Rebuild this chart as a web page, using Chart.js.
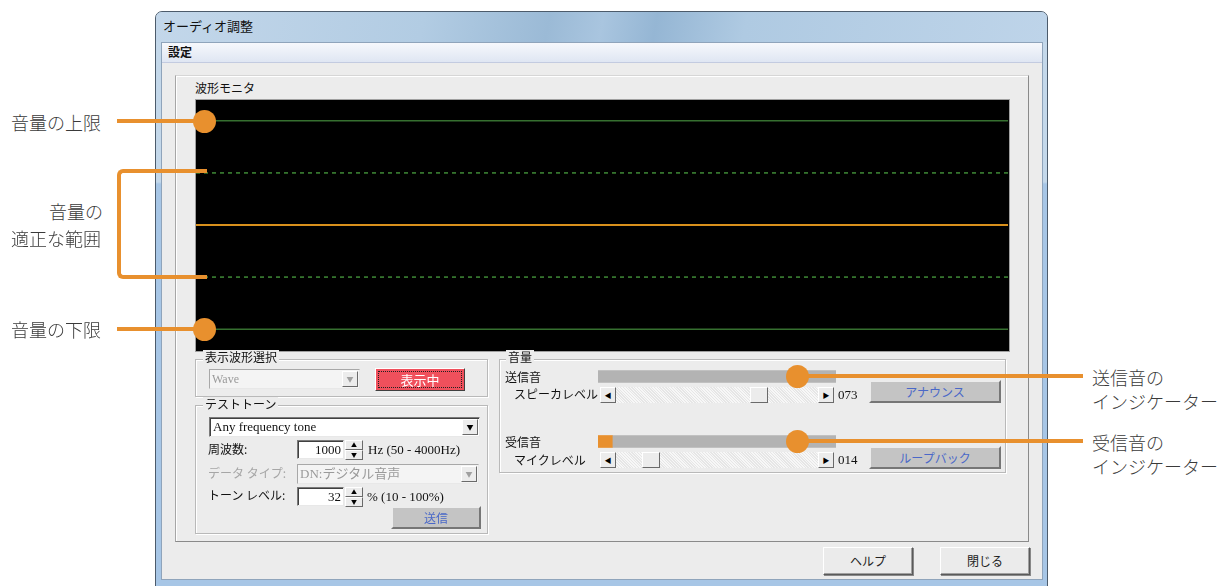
<!DOCTYPE html>
<html lang="ja">
<head>
<meta charset="utf-8">
<script src="https://cdn.jsdelivr.net/npm/chart.js@4.4.1/dist/chart.umd.min.js"></script>
<style>
  body { margin:0; background:#fff; }
  #page { position:relative; width:1230px; height:586px; overflow:hidden; background:#fff;
          font-family:"Noto Sans CJK JP", sans-serif; }
  .abs { position:absolute; box-sizing:border-box; }
  .t { position:absolute; font-size:12px; line-height:14px; color:#111; white-space:nowrap;
       font-family:"Liberation Serif","Noto Sans CJK JP", serif; }
  .jp { font-family:"Noto Sans CJK JP", sans-serif; }
  .grp { position:absolute; box-sizing:border-box; border:1px solid #b9b9b9; box-shadow: inset 1px 1px #fff, 1px 1px #fff; }
  .lg { position:absolute; background:#ececec; padding:0 2px; font-size:12px; line-height:14px;
        font-family:"Noto Sans CJK JP", sans-serif; color:#111; white-space:nowrap; }
  .edit { position:absolute; box-sizing:border-box; background:#fff; border:1px solid;
          border-color:#7a7a7a #e8e8e8 #e8e8e8 #7a7a7a; box-shadow: inset 1px 1px #404040; }
  .raised { position:absolute; box-sizing:border-box; background:#ececec; border:1px solid;
            border-color:#fff #6a6a6a #6a6a6a #fff; }
  .gbtn { position:absolute; box-sizing:border-box; background:#c4c4c4; border:2px solid;
          border-color:#ececec #767676 #767676 #ececec; color:#4a68c8; font-size:12px;
          text-align:center; font-family:"Noto Sans CJK JP", sans-serif; }
  .btn { position:absolute; box-sizing:border-box; background:#ebebeb; border:1px solid;
         border-color:#fff #5a5a5a #5a5a5a #fff; box-shadow: inset -1px -1px #a0a0a0, 1px 1px #888;
         color:#222; font-size:12px; text-align:center; font-family:"Noto Sans CJK JP", sans-serif; }
  .arrow { font-size:7px; color:#000; text-align:center; line-height:14px; }
  .track { position:absolute; box-sizing:border-box;
           background: repeating-linear-gradient(45deg,#f7f7f7 0 1px,#e6e6e6 1px 2px); }
  .orange { position:absolute; background:#e8902e; }
  .dot { position:absolute; width:23px; height:23px; border-radius:50%; background:#e8902e; }
  .note { position:absolute; font-size:18px; line-height:22px; color:#3a3a3a; white-space:nowrap;
          font-family:"Noto Sans CJK JP", sans-serif; font-weight:300; }
</style>
</head>
<body>
<div id="page">

  <!-- window frame -->
  <div class="abs" style="left:155px;top:11px;width:893px;height:580px;border:1px solid #4c5b6b;border-radius:7px 7px 0 0;
       background:linear-gradient(180deg,#c4d8ea 0,#c4d8ea 170px,#a7c6e6 172px,#a7c6e6 100%);"></div>
  <div class="abs" style="left:156px;top:12px;width:891px;height:30px;border-radius:6px 6px 0 0;
       background:linear-gradient(100deg,#c3d7ea 0%,#b2cce3 30%,#9bbad6 44%,#a9c5df 50%,#95b6d4 56%,#afcae2 66%,#bed4e9 100%);"></div>
  <div class="t jp" style="left:163px;top:19px;font-size:13px;">オーディオ調整</div>

  <!-- client -->
  <div class="abs" style="left:161px;top:42px;width:882px;height:538px;background:#ececec;border:1px solid #8fa4bb;"></div>
  <div class="abs" style="left:162px;top:43px;width:880px;height:20px;background:linear-gradient(180deg,#f6f8fc,#dfe6f3);border-bottom:1px solid #c3cbe0;"></div>
  <div class="t jp" style="left:168px;top:45px;font-size:12px;font-weight:bold;">設定</div>

  <!-- panel -->
  <div class="abs" style="left:175px;top:75px;width:854px;height:467px;border:1px solid;border-color:#d6d6d6 #8a8a8a #8a8a8a #a6a6a6;box-shadow:inset 1px 1px #fff;"></div>
  <div class="t jp" style="left:195px;top:81px;">波形モニタ</div>
  <div class="abs" style="left:195px;top:99px;width:815px;height:253px;border:1px solid #a0a0a0;background:#000;"></div>
  <canvas id="wave" class="abs" width="812" height="250" style="left:196px;top:100px;width:812px;height:250px;background:#000;"></canvas>

  <!-- 表示波形選択 -->
  <div class="grp" style="left:195px;top:359px;width:293px;height:38px;"></div>
  <div class="lg" style="left:203px;top:350px;">表示波形選択</div>
  <div class="edit" style="left:209px;top:369px;width:151px;height:20px;background:#f4f4f4;box-shadow:none;border-color:#a8a8a8 #e8e8e8 #e8e8e8 #a8a8a8;"></div>
  <div class="t" style="left:212px;top:372px;color:#9a9a9a;">Wave</div>
  <div class="raised arrow" style="left:342px;top:371px;width:16px;height:16px;color:#a0a0a0;">▼</div>
  <div class="abs" style="left:375px;top:368px;width:90px;height:23px;background:#f0505c;border:1px solid;border-color:#fff #404040 #404040 #fff;"></div>
  <div class="abs" style="left:378px;top:371px;width:84px;height:17px;border:1px dotted #222;"></div>
  <div class="t jp" style="left:375px;top:373px;width:90px;text-align:center;color:#fff;font-size:13px;">表示中</div>

  <!-- テストトーン -->
  <div class="grp" style="left:195px;top:405px;width:293px;height:129px;"></div>
  <div class="lg" style="left:203px;top:397px;">テストトーン</div>
  <div class="edit" style="left:209px;top:417px;width:271px;height:20px;"></div>
  <div class="t" style="left:213px;top:420px;font-size:13px;">Any frequency tone</div>
  <div class="raised arrow" style="left:462px;top:419px;width:16px;height:16px;">▼</div>

  <div class="t jp" style="left:208px;top:442px;">周波数:</div>
  <div class="edit" style="left:297px;top:440px;width:47px;height:19px;"></div>
  <div class="t" style="left:297px;top:443px;width:44px;text-align:right;font-size:13px;">1000</div>
  <div class="raised arrow" style="left:345px;top:440px;width:18px;height:10px;line-height:8px;font-size:6px;">▲</div>
  <div class="raised arrow" style="left:345px;top:450px;width:18px;height:10px;line-height:8px;font-size:6px;">▼</div>
  <div class="t" style="left:368px;top:443px;font-size:13px;">Hz (50 - 4000Hz)</div>

  <div class="t jp" style="left:208px;top:466px;color:#a6a6a6;">データ タイプ:</div>
  <div class="edit" style="left:297px;top:464px;width:182px;height:20px;background:#f4f4f4;box-shadow:none;border-color:#a8a8a8 #e8e8e8 #e8e8e8 #a8a8a8;"></div>
  <div class="t" style="left:300px;top:467px;color:#9a9a9a;font-size:13px;">DN:デジタル音声</div>
  <div class="raised arrow" style="left:461px;top:466px;width:16px;height:16px;color:#a0a0a0;">▼</div>

  <div class="t jp" style="left:208px;top:488px;">トーン レベル:</div>
  <div class="edit" style="left:297px;top:487px;width:47px;height:19px;"></div>
  <div class="t" style="left:297px;top:490px;width:44px;text-align:right;font-size:13px;">32</div>
  <div class="raised arrow" style="left:345px;top:487px;width:18px;height:10px;line-height:8px;font-size:6px;">▲</div>
  <div class="raised arrow" style="left:345px;top:497px;width:18px;height:10px;line-height:8px;font-size:6px;">▼</div>
  <div class="t" style="left:367px;top:490px;font-size:13px;">% (10 - 100%)</div>
  <div class="gbtn" style="left:391px;top:506px;width:90px;height:23px;line-height:19px;">送信</div>

  <!-- 音量 -->
  <div class="grp" style="left:499px;top:359px;width:507px;height:114px;"></div>
  <div class="lg" style="left:506px;top:350px;">音量</div>
  <div class="t jp" style="left:505px;top:370px;">送信音</div>
  <div class="t jp" style="left:514px;top:387px;">スピーカレベル</div>
  <div class="t jp" style="left:505px;top:435px;">受信音</div>
  <div class="t jp" style="left:514px;top:453px;">マイクレベル</div>
  <canvas id="meter" class="abs" width="238" height="130" style="left:598px;top:344px;width:238px;height:130px;"></canvas>
  <div id="sliders"></div>
  <div class="t" style="left:838px;top:388px;font-size:13px;">073</div>
  <div class="t" style="left:838px;top:453px;font-size:13px;">014</div>
  <div class="gbtn" style="left:869px;top:380px;width:132px;height:23px;line-height:19px;">アナウンス</div>
  <div class="gbtn" style="left:869px;top:446px;width:132px;height:23px;line-height:19px;">ループバック</div>

  <!-- bottom buttons -->
  <div class="btn" style="left:823px;top:547px;width:90px;height:28px;line-height:26px;">ヘルプ</div>
  <div class="btn" style="left:940px;top:547px;width:90px;height:28px;line-height:26px;">閉じる</div>

  <!-- annotations -->
  <div class="note" style="left:11px;top:111px;">音量の上限</div>
  <div class="orange" style="left:117px;top:119px;width:88px;height:4px;"></div>
  <div class="dot" style="left:193px;top:110px;"></div>

  <div class="note" style="left:11px;top:200px;width:92px;text-align:right;">音量の</div>
  <div class="note" style="left:11px;top:227px;">適正な範囲</div>
  <div class="abs" style="left:117px;top:169px;width:90px;height:110px;border:4px solid #e8902e;border-right:none;border-radius:6px 0 0 6px;"></div>

  <div class="note" style="left:11px;top:318px;">音量の下限</div>
  <div class="orange" style="left:117px;top:327px;width:88px;height:4px;"></div>
  <div class="dot" style="left:193px;top:318px;"></div>

  <div class="orange" style="left:797px;top:374px;width:286px;height:4px;"></div>
  <div class="dot" style="left:786px;top:365px;"></div>
  <div class="orange" style="left:797px;top:439px;width:286px;height:4px;"></div>
  <div class="dot" style="left:786px;top:430px;"></div>
  <div class="note" style="left:1092px;top:366px;">送信音の</div>
  <div class="note" style="left:1092px;top:390px;">インジケーター</div>
  <div class="note" style="left:1092px;top:431px;">受信音の</div>
  <div class="note" style="left:1092px;top:455px;">インジケーター</div>
</div>

<script>
// waveform monitor levels (same units as the meter, range -120..120)
var limitLevels = [100, -100];      // 上限 / 下限
var rangeLevels = [50, -50];        // 適正な範囲
var waveSamples = [0, 0, 0, 0, 0, 0, 0, 0, 0, 0, 0, 0, 0, 0, 0, 0, 0];

// level indicators
var meterNames = ['送信音', '受信音'];
var meterLevels = [0, 6];
// scroll levels
var sliderNames = ['スピーカレベル', 'マイクレベル'];
var sliderValues = [73, 14];

var last = waveSamples.length - 1;
function flat(v) {
  return [{x: 0, y: v}, {x: last, y: v}];
}

var sets = [];
limitLevels.forEach(function(v) {
  sets.push({ data: flat(v), borderColor: '#367030', borderWidth: 1.5, pointRadius: 0 });
});
rangeLevels.forEach(function(v) {
  sets.push({ data: flat(v), borderColor: '#3f8a36', borderWidth: 1.5, borderDash: [4, 4], pointRadius: 0 });
});
sets.push({
  data: waveSamples.map(function(v, i) { return {x: i, y: v}; }),
  borderColor: '#d8901c', borderWidth: 2, pointRadius: 0
});

new Chart(document.getElementById('wave'), {
  type: 'line',
  data: { datasets: sets },
  options: {
    responsive: false, animation: false,
    layout: { padding: 0 },
    plugins: { legend: { display: false }, tooltip: { enabled: false } },
    scales: {
      x: { type: 'linear', min: 0, max: last, display: false },
      y: { min: -120, max: 120, display: false }
    }
  }
});

new Chart(document.getElementById('meter'), {
  type: 'bar',
  data: {
    labels: meterNames,
    datasets: [
      { data: meterLevels.map(function(v) { return v || null; }), backgroundColor: '#e8902e', barThickness: 12 },
      { data: meterLevels.map(function(v) { return 100 - v; }), backgroundColor: '#b3b3b3', barThickness: 12 }
    ]
  },
  options: {
    indexAxis: 'y', responsive: false, animation: false,
    layout: { padding: 0 },
    plugins: { legend: { display: false }, tooltip: { enabled: false } },
    scales: {
      x: { stacked: true, min: 0, max: 100, display: false },
      y: { stacked: true, display: false }
    }
  }
});

// scroll bars under each meter
var html = '';
var tops = [387, 452];
sliderValues.forEach(function(v, i) {
  var top = tops[i];
  var thumb = 616 + Math.round((202 - 18) * v / 100);
  html += '<div class="track" style="left:600px;top:' + top + 'px;width:234px;height:16px;"></div>';
  html += '<div class="raised arrow" style="left:600px;top:' + top + 'px;width:16px;height:16px;">◀</div>';
  html += '<div class="raised arrow" style="left:818px;top:' + top + 'px;width:16px;height:16px;">▶</div>';
  html += '<div class="raised" style="left:' + thumb + 'px;top:' + top + 'px;width:18px;height:16px;"></div>';
});
document.getElementById('sliders').innerHTML = html;
</script>
</body>
</html>
